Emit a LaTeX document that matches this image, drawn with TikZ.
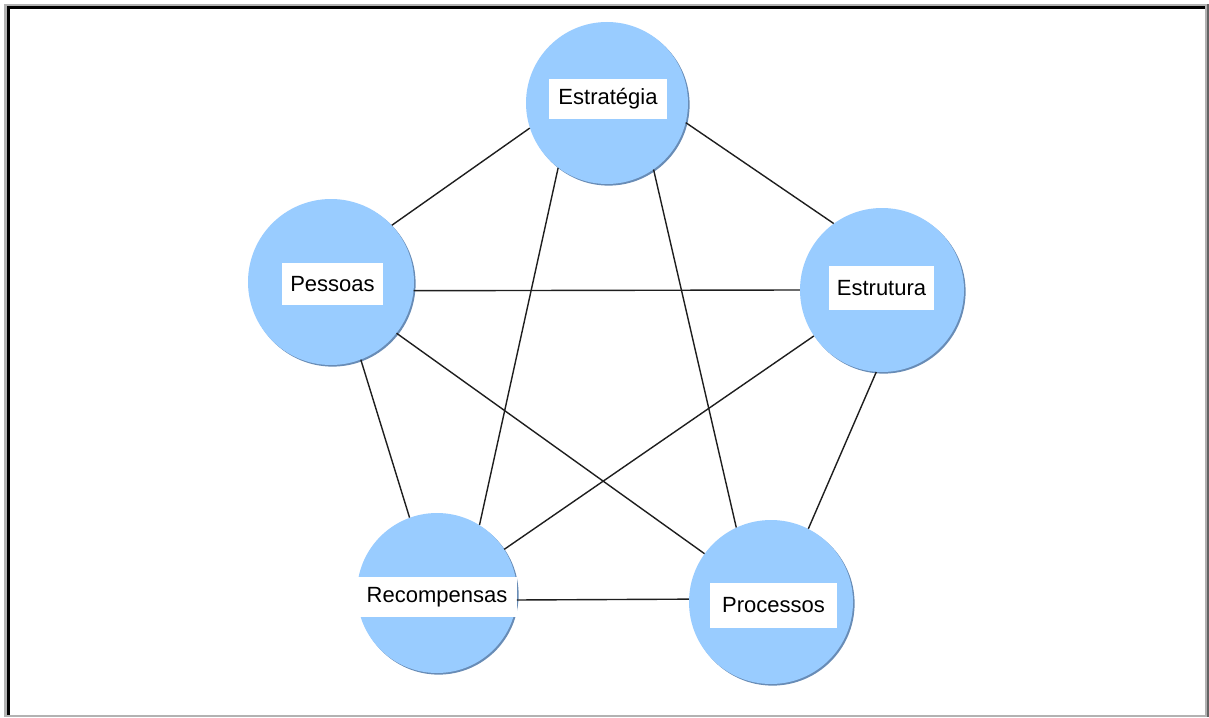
\documentclass[tikz,border=0pt]{standalone}
\usepackage{fontspec}
\setmainfont{Liberation Sans}
\definecolor{discblue}{RGB}{153,204,255}
\definecolor{discshade}{RGB}{104,140,182}
\definecolor{framegray}{RGB}{178,178,178}
\definecolor{framedark}{RGB}{100,100,100}
\definecolor{linkgray}{RGB}{30,30,30}
\begin{document}
\begin{tikzpicture}[x=1pt,y=-1pt,
  disc/.style={circle, fill=discblue, inner sep=0pt, minimum size=162pt,
    preaction={fill=discshade, transform canvas={shift={(1.6pt,-1.6pt)}}}},
  tag/.style={fill=white, inner sep=0pt, text=black,
    font=\fontsize{22}{26}\selectfont},
  link/.style={draw=linkgray, line width=1.4pt}]
% page and window frame
\useasboundingbox (0,0) rectangle (1209,717);
\fill[white] (0,0) rectangle (1209,717);
\fill[framegray] (4,4) rectangle (1206,6.5);
\fill[framegray] (4,4) rectangle (7,717);
\fill[black] (7,6.5) rectangle (1205,8.7);
\fill[black] (7,6.5) rectangle (10,717);
\fill[framegray] (1204.5,4) rectangle (1207,717);
\fill[framedark] (1207,4) rectangle (1209,717);
\fill[framegray] (7,715) rectangle (1204.5,717);

% the five discs
\node[disc] (E) at (607,103) {};
\node[disc, minimum size=166pt] (P) at (331,282) {};
\node[disc, minimum size=164pt] (S) at (882,290) {};
\node[disc, minimum size=160pt] (R) at (437,593) {};
\node[disc, minimum size=164pt] (C) at (771,602) {};

% labels on white plates
\node[tag, minimum width=118pt, minimum height=40pt] (tE) at (608,99) {Estratégia};
\node[tag, minimum width=101pt, minimum height=42pt] (tP) at (332.5,284) {Pessoas};
\node[tag, minimum width=105pt, minimum height=44pt] (tS) at (881.5,288) {Estrutura};
\node[tag, minimum width=160pt, minimum height=40pt] (tR) at (437,597) {Recompensas};
\node[tag, minimum width=127pt, minimum height=45pt] (tC) at (773.5,605.5) {Processos};

% every pair of discs is linked, rim to rim
\draw[link] (E.198) -- (P.43);
\draw[link] (E.346) -- (S.126);
\draw[link] (E.233) -- (R.58);
\draw[link] (E.305) -- (C.115);
\draw[link] (P.354) -- (S.180);
\draw[link] (P.291) -- (R.110);
\draw[link] (P.322) -- (C.144);
\draw[link] (S.214) -- (R.33);
\draw[link] (S.266) -- (C.63);
\draw[link] (R.355) -- (C.178);
\end{tikzpicture}
\end{document}
